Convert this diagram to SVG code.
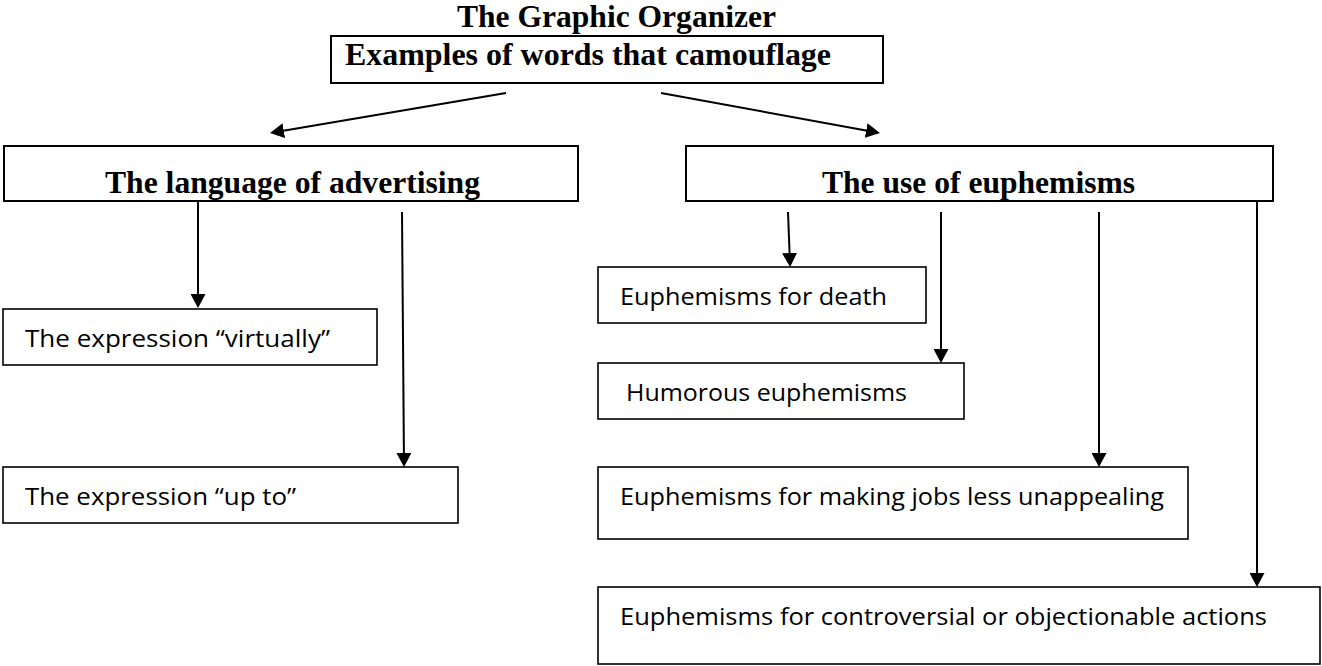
<svg xmlns="http://www.w3.org/2000/svg" width="1322" height="666" viewBox="0 0 1322 666">
<style>
.bg{fill:#fff}
.hb{fill:#fff;stroke:#000;stroke-width:2}
.nb{fill:#fff;stroke:#000;stroke-width:1.6}
.ht{font-family:"Liberation Serif","Times New Roman",serif;font-weight:bold;font-size:32px;fill:#000}
.st{font-family:"Open Sans","Noto Sans","Liberation Sans",sans-serif;font-size:24px;fill:#000}
.cn{stroke:#000;stroke-width:2;fill:none;marker-end:url(#ah)}
</style>
<defs>
<marker id="ah" viewBox="0 0 14 15" refX="11" refY="7.5" markerWidth="14" markerHeight="15" markerUnits="userSpaceOnUse" orient="auto">
<path d="M0,0 L14,7.5 L0,15 Z" fill="#000"/>
</marker>
</defs>
<rect class="bg" x="0" y="0" width="1322" height="666"/>
<text class="ht" x="616.5" y="27" text-anchor="middle" textLength="319" lengthAdjust="spacingAndGlyphs">The Graphic Organizer</text>
<g id="connectors">
<line class="cn" x1="506" y1="93" x2="273" y2="132.5"/>
<line class="cn" x1="661" y1="93" x2="877" y2="132.5"/>
<line class="cn" x1="198" y1="201" x2="198" y2="305"/>
<line class="cn" x1="402" y1="212" x2="404" y2="464"/>
<line class="cn" x1="788" y1="212" x2="790" y2="264"/>
<line class="cn" x1="941" y1="212" x2="941" y2="360"/>
<line class="cn" x1="1099" y1="212" x2="1099" y2="464"/>
<line class="cn" x1="1257" y1="201" x2="1257" y2="584"/>
</g>
<g id="n-root">
<rect class="hb" x="331" y="36" width="552" height="47"/>
<text class="ht" x="345" y="65" textLength="486" lengthAdjust="spacingAndGlyphs">Examples of words that camouflage</text>
</g>
<g id="n-advertising">
<rect class="hb" x="4" y="146" width="574" height="55"/>
<text class="ht" x="105" y="193" textLength="375" lengthAdjust="spacingAndGlyphs">The language of advertising</text>
</g>
<g id="n-euphemisms">
<rect class="hb" x="686" y="146" width="587" height="55"/>
<text class="ht" x="822" y="193" textLength="313" lengthAdjust="spacingAndGlyphs">The use of euphemisms</text>
</g>
<g id="n-virtually">
<rect class="nb" x="3" y="309" width="374" height="56"/>
<text class="st" x="25" y="347" textLength="305" lengthAdjust="spacingAndGlyphs">The expression “virtually”</text>
</g>
<g id="n-upto">
<rect class="nb" x="3" y="467" width="455" height="56"/>
<text class="st" x="25" y="505" textLength="271" lengthAdjust="spacingAndGlyphs">The expression “up to”</text>
</g>
<g id="n-death">
<rect class="nb" x="598" y="267" width="328" height="56"/>
<text class="st" x="620" y="305" textLength="267" lengthAdjust="spacingAndGlyphs">Euphemisms for death</text>
</g>
<g id="n-humorous">
<rect class="nb" x="598" y="363" width="366" height="56"/>
<text class="st" x="626" y="401" textLength="281" lengthAdjust="spacingAndGlyphs">Humorous euphemisms</text>
</g>
<g id="n-jobs">
<rect class="nb" x="598" y="467" width="590" height="72"/>
<text class="st" x="620" y="505" textLength="544" lengthAdjust="spacingAndGlyphs">Euphemisms for making jobs less unappealing</text>
</g>
<g id="n-controversial">
<rect class="nb" x="598" y="587" width="722" height="77"/>
<text class="st" x="620" y="625" textLength="647" lengthAdjust="spacingAndGlyphs">Euphemisms for controversial or objectionable actions</text>
</g>
</svg>
